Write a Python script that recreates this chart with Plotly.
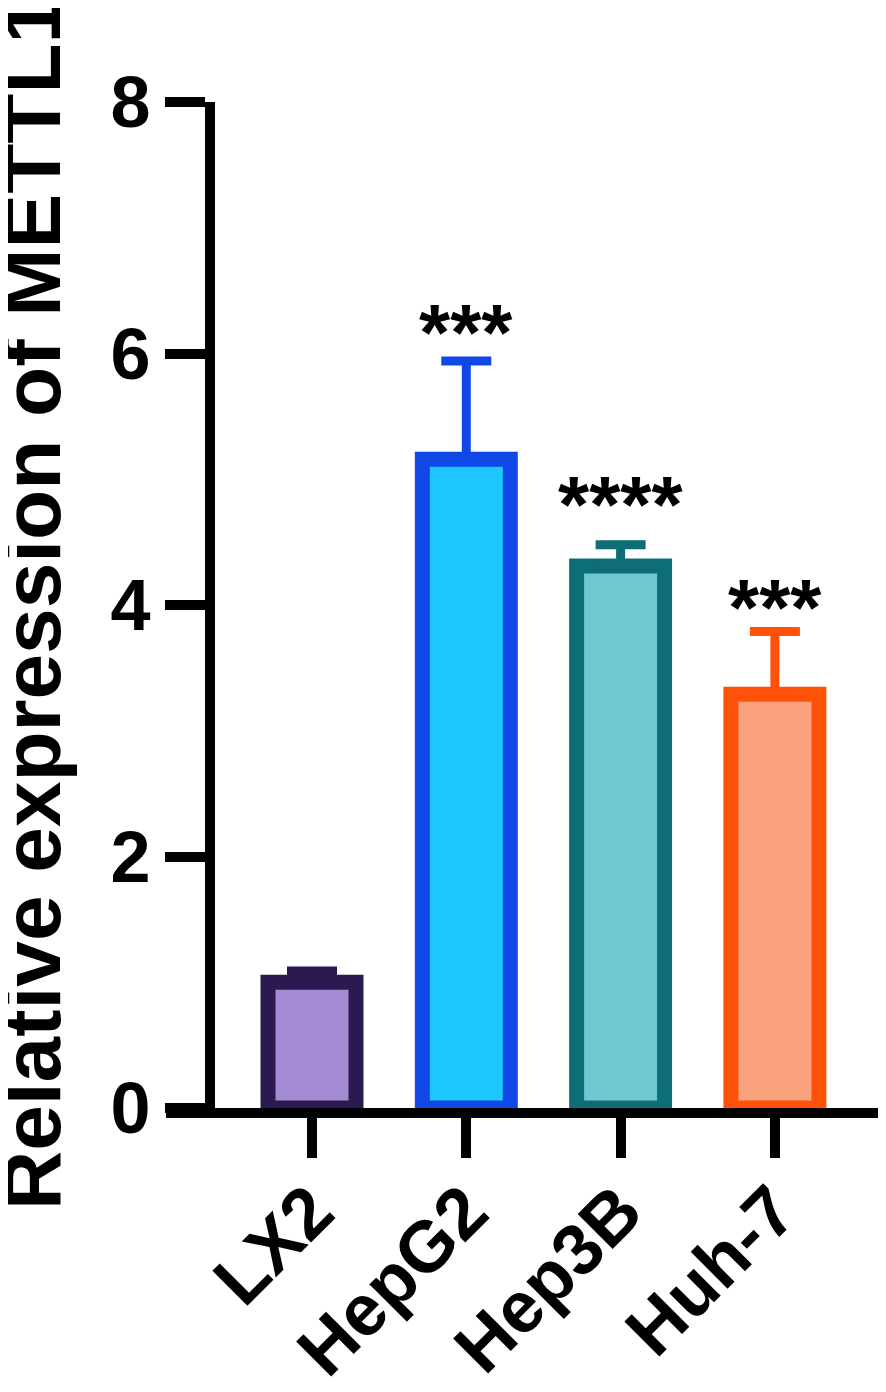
import plotly.graph_objects as go

# values
cell_lines = ["LX2", "HepG2", "Hep3B", "Huh-7"]
mean_expr = [1.00, 5.16, 4.31, 3.29]
sd_expr = [0.09, 0.78, 0.17, 0.50]
stars = ["", "***", "****", "***"]
star_y = [0, 6.25, 4.88, 4.06]
fill_colors = ["#A58BD4", "#1EC8FF", "#70C8D0", "#F9A27D"]
edge_colors = ["#2B1A4F", "#1048E8", "#0E6E78", "#FF5108"]
y_ticks = [0, 2, 4, 6, 8]

FONT = "Liberation Sans, Arial, sans-serif"

# the page body adds an 8px margin, so work in page pixels and shift back
BODY = 8
W, H = 886 - BODY, 1392 - BODY
left, right = 166 - BODY, 886 - BODY      # x axis line spans this
top, bottom = 102 - BODY, 1108 - BODY     # y = 8 and y = 0
yaxis_px = 210 - BODY
cat_px = 154.3
first_cat = 312 - BODY

fig = go.Figure()

for i, name in enumerate(cell_lines):
    fig.add_trace(go.Bar(
        x=[name],
        y=[mean_expr[i]],
        width=0.57,
        marker=dict(color=fill_colors[i],
                    line=dict(color=edge_colors[i], width=15)),
        error_y=dict(type="data", symmetric=False,
                     array=[sd_expr[i]], arrayminus=[0],
                     color=edge_colors[i], thickness=9, width=25),
        showlegend=False,
    ))
    if stars[i]:
        fig.add_annotation(
            x=name, y=star_y[i], xref="x", yref="y",
            text=stars[i], showarrow=False,
            yanchor="middle", yshift=-10,
            font=dict(family=FONT, size=80, color="black", weight="bold"),
        )

# y axis title, runs past the top edge like the original
fig.add_annotation(
    x=(31 - BODY - left) / (right - left),
    y=(bottom - (1212 - BODY)) / (bottom - top),
    xref="paper", yref="paper",
    text="Relative expression of METTL1", textangle=-90,
    showarrow=False, xanchor="center", yanchor="bottom",
    font=dict(family=FONT, size=82, color="black", weight="bold"),
)

x_lo = (left - first_cat) / cat_px
x_hi = (right - first_cat) / cat_px

fig.update_layout(
    width=W, height=H,
    margin=dict(l=left, r=W - right, t=top, b=H - bottom, pad=0),
    plot_bgcolor="white", paper_bgcolor="white",
    barmode="overlay",
    font=dict(family=FONT, color="black"),
    xaxis=dict(
        range=[x_lo, x_hi], showgrid=False, zeroline=False, automargin=False,
        showline=True, linecolor="black", linewidth=10,
        ticks="outside", ticklen=40, tickwidth=10, tickcolor="black",
        tickangle=-45, ticklabelstandoff=-18,
        tickfont=dict(family=FONT, size=72, color="black", weight="bold"),
    ),
    yaxis=dict(
        range=[0, 8], tickvals=y_ticks, showgrid=False, zeroline=False,
        automargin=False,
        anchor="free", position=(yaxis_px - left) / (right - left),
        showline=True, linecolor="black", linewidth=10,
        ticks="outside", ticklen=40, tickwidth=10, tickcolor="black",
        tickfont=dict(family=FONT, size=72, color="black", weight="bold"),
    ),
)

fig.write_html("out.html")
